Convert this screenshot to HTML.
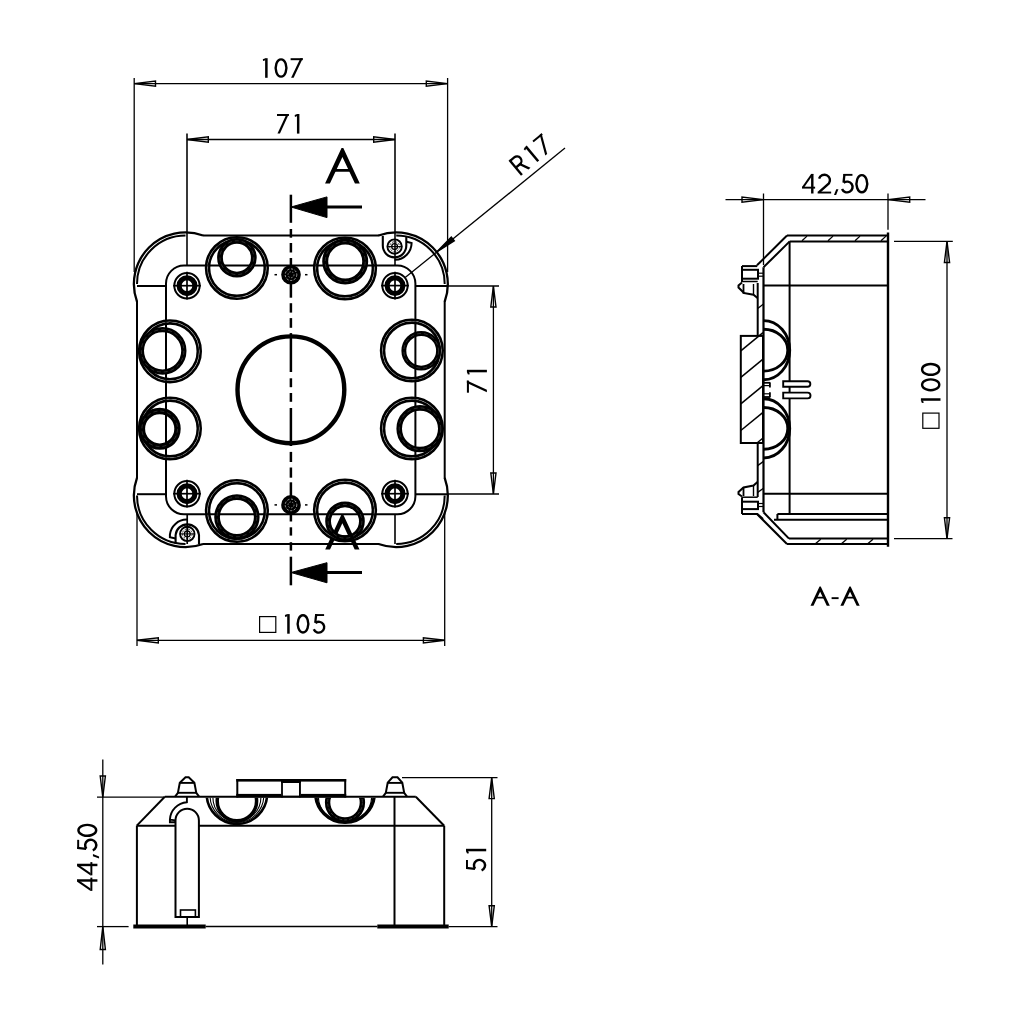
<!DOCTYPE html>
<html><head><meta charset="utf-8"><style>
html,body{margin:0;padding:0;background:#fff;width:1024px;height:1024px;overflow:hidden}
svg{display:block}
text{font-family:"Liberation Sans",sans-serif;fill:#000;stroke:none}
</style></head><body>
<svg width="1024" height="1024" viewBox="0 0 1024 1024" stroke="#000" fill="none" stroke-linecap="butt">
<rect x="0" y="0" width="1024" height="1024" fill="#fff" stroke="none"/>
<line x1="134.20" y1="78.00" x2="134.20" y2="272.00" stroke-width="1.3" />
<line x1="447.60" y1="78.00" x2="447.60" y2="272.00" stroke-width="1.3" />
<line x1="134.20" y1="83.60" x2="447.60" y2="83.60" stroke-width="1.3" />
<polygon points="134.20,83.60 155.50,86.20 155.50,81.00" stroke-width="1.4" fill="none" />
<polygon points="447.60,83.60 426.30,81.00 426.30,86.20" stroke-width="1.4" fill="none" />
<g transform=" translate(262.80,58.20) scale(1.0076,1.0000) translate(-4.80,0)"><g transform="translate(4.80,0)"><polygon points="2.30,0.00 4.80,0.00 4.80,19.60 2.30,19.60" fill="#000" stroke="none"/><polygon points="0.00,1.00 2.60,0.00 2.60,2.10 0.30,2.90" fill="#000" stroke="none"/></g><g transform="translate(16.40,0)"><path d="M6.5,1.2 A5.3,8.6 0 1 1 6.49,1.2 Z" fill="none" stroke="#000" stroke-width="2.4" /></g><g transform="translate(32.40,0)"><polygon points="0.00,0.00 12.10,0.00 12.10,2.00 0.00,2.00" fill="#000" stroke="none"/><polygon points="9.70,0.00 12.10,0.00 3.00,19.60 0.50,19.60" fill="#000" stroke="none"/></g></g>
<line x1="187.00" y1="133.60" x2="187.00" y2="266.00" stroke-width="1.56" />
<line x1="395.00" y1="133.60" x2="395.00" y2="266.00" stroke-width="1.56" />
<line x1="187.00" y1="139.50" x2="395.00" y2="139.50" stroke-width="1.3" />
<polygon points="187.00,139.50 208.30,142.10 208.30,136.90" stroke-width="1.4" fill="none" />
<polygon points="395.00,139.50 373.70,136.90 373.70,142.10" stroke-width="1.4" fill="none" />
<g transform=" translate(277.00,114.00) scale(0.9825,1.0000) translate(-2.00,0)"><g transform="translate(2.00,0)"><polygon points="0.00,0.00 12.10,0.00 12.10,2.00 0.00,2.00" fill="#000" stroke="none"/><polygon points="9.70,0.00 12.10,0.00 3.00,19.60 0.50,19.60" fill="#000" stroke="none"/></g><g transform="translate(20.00,0)"><polygon points="2.30,0.00 4.80,0.00 4.80,19.60 2.30,19.60" fill="#000" stroke="none"/><polygon points="0.00,1.00 2.60,0.00 2.60,2.10 0.30,2.90" fill="#000" stroke="none"/></g></g>
<line x1="447.00" y1="286.00" x2="499.00" y2="286.00" stroke-width="1.3" />
<line x1="447.00" y1="494.00" x2="499.00" y2="494.00" stroke-width="1.3" />
<line x1="493.40" y1="286.00" x2="493.40" y2="494.00" stroke-width="1.3" />
<polygon points="493.40,286.00 490.80,307.00 496.00,307.00" stroke-width="1.4" fill="none" />
<polygon points="493.40,494.00 496.00,473.00 490.80,473.00" stroke-width="1.4" fill="none" />
<g transform="translate(466.9,392.7) rotate(-90) translate(0.00,0.00) scale(1.0044,1.0204) translate(-2.00,0)"><g transform="translate(2.00,0)"><polygon points="0.00,0.00 12.10,0.00 12.10,2.00 0.00,2.00" fill="#000" stroke="none"/><polygon points="9.70,0.00 12.10,0.00 3.00,19.60 0.50,19.60" fill="#000" stroke="none"/></g><g transform="translate(20.00,0)"><polygon points="2.30,0.00 4.80,0.00 4.80,19.60 2.30,19.60" fill="#000" stroke="none"/><polygon points="0.00,1.00 2.60,0.00 2.60,2.10 0.30,2.90" fill="#000" stroke="none"/></g></g>
<line x1="137.00" y1="513.00" x2="137.00" y2="646.00" stroke-width="1.3" />
<line x1="444.70" y1="513.00" x2="444.70" y2="646.00" stroke-width="1.3" />
<line x1="137.00" y1="640.30" x2="444.70" y2="640.30" stroke-width="1.3" />
<polygon points="137.00,640.30 158.30,642.90 158.30,637.70" stroke-width="1.4" fill="none" />
<polygon points="444.70,640.30 423.40,637.70 423.40,642.90" stroke-width="1.4" fill="none" />
<rect x="259.60" y="616.60" width="16.20" height="15.80" stroke-width="1.2" fill="none"/>
<g transform=" translate(284.90,614.10) scale(1.0000,1.0000) translate(-4.80,0)"><g transform="translate(4.80,0)"><polygon points="2.30,0.00 4.80,0.00 4.80,19.60 2.30,19.60" fill="#000" stroke="none"/><polygon points="0.00,1.00 2.60,0.00 2.60,2.10 0.30,2.90" fill="#000" stroke="none"/></g><g transform="translate(16.40,0)"><path d="M6.5,1.2 A5.3,8.6 0 1 1 6.49,1.2 Z" fill="none" stroke="#000" stroke-width="2.4" /></g><g transform="translate(32.40,0)"><polygon points="2.60,0.00 11.60,0.00 11.60,1.90 2.60,1.90" fill="#000" stroke="none"/><polygon points="2.60,0.00 4.90,0.00 3.90,8.60 1.60,8.60" fill="#000" stroke="none"/><path d="M2.90,8.90 A5.4,5.4 0 1 1 1.29,15.12" fill="none" stroke="#000" stroke-width="2.4" /></g></g>
<line x1="405.20" y1="277.60" x2="565.00" y2="148.10" stroke-width="1.3" />
<polygon points="436.40,252.20 454.31,240.76 451.29,237.04" stroke-width="1.4" fill="#000" />
<g transform="translate(521,175.7) rotate(-39.82) translate(0.00,-19.50) scale(0.9817,0.9949) translate(-2.00,0)"><g transform="translate(2.00,0)"><polygon points="0.00,0.00 2.40,0.00 2.40,19.60 0.00,19.60" fill="#000" stroke="none"/><path d="M1.2,1.15 L6.6,1.15 A4.45,4.45 0 0 1 6.6,10.05 L1.2,10.05" fill="none" stroke="#000" stroke-width="2.3" /><polygon points="5.00,9.20 7.60,9.20 12.60,19.60 9.90,19.60" fill="#000" stroke="none"/></g><g transform="translate(21.30,0)"><polygon points="2.30,0.00 4.80,0.00 4.80,19.60 2.30,19.60" fill="#000" stroke="none"/><polygon points="0.00,1.00 2.60,0.00 2.60,2.10 0.30,2.90" fill="#000" stroke="none"/></g><g transform="translate(33.70,0)"><polygon points="0.00,0.00 12.10,0.00 12.10,2.00 0.00,2.00" fill="#000" stroke="none"/><polygon points="9.70,0.00 12.10,0.00 3.00,19.60 0.50,19.60" fill="#000" stroke="none"/></g></g>
<line x1="290.90" y1="194.70" x2="290.90" y2="222.80" stroke-width="2.5" />
<line x1="290.90" y1="229.00" x2="290.90" y2="237.70" stroke-width="2.5" />
<line x1="290.90" y1="243.00" x2="290.90" y2="252.50" stroke-width="2.5" />
<line x1="290.90" y1="258.00" x2="290.90" y2="297.70" stroke-width="2.5" />
<line x1="290.90" y1="303.20" x2="290.90" y2="312.60" stroke-width="2.5" />
<line x1="290.90" y1="318.10" x2="290.90" y2="327.80" stroke-width="2.5" />
<line x1="290.90" y1="333.10" x2="290.90" y2="372.00" stroke-width="2.5" />
<line x1="290.90" y1="378.30" x2="290.90" y2="387.20" stroke-width="2.5" />
<line x1="290.90" y1="393.00" x2="290.90" y2="401.80" stroke-width="2.5" />
<line x1="290.90" y1="408.00" x2="290.90" y2="446.00" stroke-width="2.5" />
<line x1="290.90" y1="451.90" x2="290.90" y2="462.00" stroke-width="2.5" />
<line x1="290.90" y1="467.50" x2="290.90" y2="477.70" stroke-width="2.5" />
<line x1="290.90" y1="482.30" x2="290.90" y2="521.50" stroke-width="2.5" />
<line x1="290.90" y1="527.30" x2="290.90" y2="535.60" stroke-width="2.5" />
<line x1="290.90" y1="542.20" x2="290.90" y2="550.60" stroke-width="2.5" />
<line x1="290.90" y1="556.70" x2="290.90" y2="585.30" stroke-width="2.5" />
<polygon points="291.00,207.00 327.00,196.90 327.00,217.60" stroke-width="1" fill="#000" />
<line x1="326.00" y1="207.00" x2="362.00" y2="207.00" stroke-width="3" />
<polygon points="291.00,572.50 327.00,562.70 327.00,582.80" stroke-width="1" fill="#000" />
<line x1="326.00" y1="572.50" x2="362.00" y2="572.50" stroke-width="3" />
<g transform="translate(325.05,148)"><polygon points="0.00,35.50 16.48,0.00 18.27,0.00 34.75,35.50 29.90,35.50 17.38,8.92 4.85,35.50" fill="#000" stroke="none"/><polygon points="10.68,21.00 24.07,21.00 25.34,23.70 9.41,23.70" fill="#000" stroke="none"/></g>
<g transform="translate(325.2,514.4)"><polygon points="0.00,35.20 16.25,0.00 18.05,0.00 34.30,35.20 29.50,35.20 17.15,8.87 4.80,35.20" fill="#000" stroke="none"/><polygon points="10.55,20.80 23.75,20.80 25.01,23.50 9.29,23.50" fill="#000" stroke="none"/></g>
<line x1="203.00" y1="235.60" x2="379.00" y2="235.60" stroke-width="2.0" />
<line x1="203.00" y1="544.00" x2="379.00" y2="544.00" stroke-width="2.0" />
<line x1="137.00" y1="301.00" x2="137.00" y2="478.50" stroke-width="2.0" />
<line x1="444.70" y1="301.00" x2="444.70" y2="478.50" stroke-width="2.0" />
<path d="M137.00,284.00 A48.5,48.5 0 0 1 185.50,235.50" stroke-width="2.0" fill="none" />
<path d="M137.00,301.62 A51.6,51.6 0 0 1 203.12,235.50" stroke-width="2.3" fill="none" />
<path d="M444.70,284.00 A48.5,48.5 0 0 0 396.20,235.50" stroke-width="2.0" fill="none" />
<path d="M444.70,301.62 A51.6,51.6 0 0 0 378.58,235.50" stroke-width="2.3" fill="none" />
<path d="M444.70,495.50 A48.5,48.5 0 0 1 396.20,544.00" stroke-width="2.0" fill="none" />
<path d="M444.70,477.88 A51.6,51.6 0 0 1 378.58,544.00" stroke-width="2.3" fill="none" />
<path d="M137.00,495.50 A48.5,48.5 0 0 0 185.50,544.00" stroke-width="2.0" fill="none" />
<path d="M137.00,477.88 A51.6,51.6 0 0 0 203.12,544.00" stroke-width="2.3" fill="none" />
<circle cx="290.90" cy="389.80" r="53.40" stroke-width="4.4" fill="none" />
<line x1="137.00" y1="286.00" x2="166.00" y2="286.00" stroke-width="2.0" />
<line x1="415.40" y1="286.00" x2="447.60" y2="286.00" stroke-width="2.0" />
<line x1="137.00" y1="494.20" x2="166.00" y2="494.20" stroke-width="2.0" />
<line x1="415.40" y1="494.20" x2="447.60" y2="494.20" stroke-width="2.0" />
<line x1="395.00" y1="514.20" x2="395.00" y2="544.00" stroke-width="1.6" />
<rect x="166" y="265.6" width="249.4" height="248.6" rx="18" ry="18" stroke-width="2" fill="none"/>
<circle cx="187.00" cy="285.70" r="12.70" stroke-width="2.0" fill="none" />
<circle cx="187.00" cy="285.70" r="7.90" stroke-width="5.1" fill="none" />
<line x1="173.10" y1="285.70" x2="200.90" y2="285.70" stroke-width="1.7" />
<line x1="187.00" y1="271.80" x2="187.00" y2="299.60" stroke-width="1.7" />
<circle cx="395.00" cy="285.60" r="12.70" stroke-width="2.0" fill="none" />
<circle cx="395.00" cy="285.60" r="7.90" stroke-width="5.1" fill="none" />
<line x1="381.10" y1="285.60" x2="408.90" y2="285.60" stroke-width="1.7" />
<line x1="395.00" y1="271.70" x2="395.00" y2="299.50" stroke-width="1.7" />
<circle cx="187.00" cy="493.70" r="12.70" stroke-width="2.0" fill="none" />
<circle cx="187.00" cy="493.70" r="7.90" stroke-width="5.1" fill="none" />
<line x1="173.10" y1="493.70" x2="200.90" y2="493.70" stroke-width="1.7" />
<line x1="187.00" y1="479.80" x2="187.00" y2="507.60" stroke-width="1.7" />
<circle cx="395.00" cy="493.70" r="12.70" stroke-width="2.0" fill="none" />
<circle cx="395.00" cy="493.70" r="7.90" stroke-width="5.1" fill="none" />
<line x1="381.10" y1="493.70" x2="408.90" y2="493.70" stroke-width="1.7" />
<line x1="395.00" y1="479.80" x2="395.00" y2="507.60" stroke-width="1.7" />
<circle cx="291" cy="274.7" r="9.8" fill="#000" stroke="none"/>
<circle cx="291.00" cy="274.70" r="5.80" stroke-width="0.7" fill="none" stroke="#fff" stroke-dasharray="2.2,1.6" stroke-opacity="0.85"/>
<circle cx="291.00" cy="274.70" r="3.00" stroke-width="0.6" fill="none" stroke="#fff" stroke-dasharray="1.6,1.4" stroke-opacity="0.8"/>
<line x1="274.50" y1="274.70" x2="277.00" y2="274.70" stroke-width="1.5" />
<line x1="305.00" y1="274.70" x2="307.50" y2="274.70" stroke-width="1.5" />
<circle cx="291" cy="504.9" r="9.8" fill="#000" stroke="none"/>
<circle cx="291.00" cy="504.90" r="5.80" stroke-width="0.7" fill="none" stroke="#fff" stroke-dasharray="2.2,1.6" stroke-opacity="0.85"/>
<circle cx="291.00" cy="504.90" r="3.00" stroke-width="0.6" fill="none" stroke="#fff" stroke-dasharray="1.6,1.4" stroke-opacity="0.8"/>
<line x1="274.50" y1="504.90" x2="277.00" y2="504.90" stroke-width="1.5" />
<line x1="305.00" y1="504.90" x2="307.50" y2="504.90" stroke-width="1.5" />
<circle cx="236.90" cy="268.00" r="30.80" stroke-width="2.6" fill="none" />
<circle cx="236.90" cy="268.00" r="27.90" stroke-width="2.6" fill="none" />
<circle cx="236.90" cy="268.00" r="29.25" stroke-width="0.45" fill="none" stroke="#fff" stroke-dasharray="4,3" stroke-opacity="0.45"/>
<circle cx="236.90" cy="257.70" r="16.90" stroke-width="5.800000000000001" fill="none" />
<circle cx="236.90" cy="257.70" r="16.90" stroke-width="0.45" fill="none" stroke="#fff" stroke-dasharray="4,3" stroke-opacity="0.4"/>
<circle cx="345.00" cy="268.50" r="30.80" stroke-width="2.6" fill="none" />
<circle cx="345.00" cy="268.50" r="27.90" stroke-width="2.6" fill="none" />
<circle cx="345.00" cy="268.50" r="29.25" stroke-width="0.45" fill="none" stroke="#fff" stroke-dasharray="4,3" stroke-opacity="0.45"/>
<circle cx="345.20" cy="261.60" r="20.00" stroke-width="6" fill="none" />
<circle cx="345.20" cy="261.60" r="20.00" stroke-width="0.45" fill="none" stroke="#fff" stroke-dasharray="4,3" stroke-opacity="0.4"/>
<circle cx="169.90" cy="351.30" r="30.80" stroke-width="2.6" fill="none" />
<circle cx="169.90" cy="351.30" r="27.90" stroke-width="2.6" fill="none" />
<circle cx="169.90" cy="351.30" r="29.25" stroke-width="0.45" fill="none" stroke="#fff" stroke-dasharray="4,3" stroke-opacity="0.45"/>
<circle cx="162.60" cy="350.80" r="21.25" stroke-width="5.299999999999997" fill="none" />
<circle cx="162.60" cy="350.80" r="21.25" stroke-width="0.45" fill="none" stroke="#fff" stroke-dasharray="4,3" stroke-opacity="0.4"/>
<circle cx="169.90" cy="428.50" r="30.80" stroke-width="2.6" fill="none" />
<circle cx="169.90" cy="428.50" r="27.90" stroke-width="2.6" fill="none" />
<circle cx="169.90" cy="428.50" r="29.25" stroke-width="0.45" fill="none" stroke="#fff" stroke-dasharray="4,3" stroke-opacity="0.45"/>
<circle cx="159.70" cy="428.80" r="17.80" stroke-width="6.4" fill="none" />
<circle cx="159.70" cy="428.80" r="17.80" stroke-width="0.45" fill="none" stroke="#fff" stroke-dasharray="4,3" stroke-opacity="0.4"/>
<circle cx="411.90" cy="350.50" r="30.80" stroke-width="2.6" fill="none" />
<circle cx="411.90" cy="350.50" r="27.90" stroke-width="2.6" fill="none" />
<circle cx="411.90" cy="350.50" r="29.25" stroke-width="0.45" fill="none" stroke="#fff" stroke-dasharray="4,3" stroke-opacity="0.45"/>
<circle cx="421.20" cy="350.80" r="17.35" stroke-width="4.9" fill="none" />
<circle cx="421.20" cy="350.80" r="17.35" stroke-width="0.45" fill="none" stroke="#fff" stroke-dasharray="4,3" stroke-opacity="0.4"/>
<circle cx="411.90" cy="428.50" r="30.80" stroke-width="2.6" fill="none" />
<circle cx="411.90" cy="428.50" r="27.90" stroke-width="2.6" fill="none" />
<circle cx="411.90" cy="428.50" r="29.25" stroke-width="0.45" fill="none" stroke="#fff" stroke-dasharray="4,3" stroke-opacity="0.45"/>
<circle cx="420.00" cy="428.70" r="20.80" stroke-width="5.600000000000001" fill="none" />
<circle cx="420.00" cy="428.70" r="20.80" stroke-width="0.45" fill="none" stroke="#fff" stroke-dasharray="4,3" stroke-opacity="0.4"/>
<circle cx="236.90" cy="511.00" r="30.80" stroke-width="2.6" fill="none" />
<circle cx="236.90" cy="511.00" r="27.90" stroke-width="2.6" fill="none" />
<circle cx="236.90" cy="511.00" r="29.25" stroke-width="0.45" fill="none" stroke="#fff" stroke-dasharray="4,3" stroke-opacity="0.45"/>
<circle cx="236.90" cy="516.90" r="19.85" stroke-width="5.699999999999999" fill="none" />
<circle cx="236.90" cy="516.90" r="19.85" stroke-width="0.45" fill="none" stroke="#fff" stroke-dasharray="4,3" stroke-opacity="0.4"/>
<circle cx="345.00" cy="510.50" r="30.80" stroke-width="2.6" fill="none" />
<circle cx="345.00" cy="510.50" r="27.90" stroke-width="2.6" fill="none" />
<circle cx="345.00" cy="510.50" r="29.25" stroke-width="0.45" fill="none" stroke="#fff" stroke-dasharray="4,3" stroke-opacity="0.45"/>
<circle cx="345.00" cy="521.30" r="16.90" stroke-width="5.800000000000001" fill="none" />
<circle cx="345.00" cy="521.30" r="16.90" stroke-width="0.45" fill="none" stroke="#fff" stroke-dasharray="4,3" stroke-opacity="0.4"/>
<circle cx="394.60" cy="246.60" r="7.20" stroke-width="1.9" fill="none" />
<circle cx="394.60" cy="246.60" r="4.90" stroke-width="0.8" fill="none" stroke-dasharray="2,1.3"/>
<circle cx="394.60" cy="246.60" r="2.90" stroke-width="1.3" fill="none" />
<line x1="387.10" y1="246.60" x2="402.10" y2="246.60" stroke-width="1.1" />
<path d="M382.8,236 L382.8,245.6 A11.75,11.75 0 0 0 406.3,245.6 L406.3,236" stroke-width="2.1" fill="none" />
<path d="M406.5,241.8 L411.6,243.0 A17,17 0 0 1 395.2,259.8 L394.5,259.8" stroke-width="2.0" fill="none" />
<circle cx="187.30" cy="533.90" r="7.20" stroke-width="1.9" fill="none" />
<circle cx="187.30" cy="533.90" r="4.90" stroke-width="0.8" fill="none" stroke-dasharray="2,1.3"/>
<circle cx="187.30" cy="533.90" r="2.90" stroke-width="1.3" fill="none" />
<line x1="179.80" y1="533.90" x2="194.80" y2="533.90" stroke-width="1.1" />
<path d="M175.6,544 L175.6,535.0 A11.75,11.75 0 0 1 199.0,535.0 L199.0,544" stroke-width="2.1" fill="none" />
<path d="M175.6,538.5 L169.9,537.3 L169.9,534.6 A17,17 0 0 1 186.6,519.6 L187.2,519.6" stroke-width="2.0" fill="none" />
<line x1="187.20" y1="514.20" x2="187.20" y2="544.00" stroke-width="1.7" />
<line x1="763.50" y1="193.50" x2="763.50" y2="265.00" stroke-width="1.3" />
<line x1="888.00" y1="193.50" x2="888.00" y2="229.70" stroke-width="1.3" />
<line x1="725.50" y1="199.60" x2="925.50" y2="199.60" stroke-width="1.3" />
<polygon points="763.50,199.60 742.00,197.00 742.00,202.20" stroke-width="1.4" fill="none" />
<polygon points="888.00,199.60 909.70,202.20 909.70,197.00" stroke-width="1.4" fill="none" />
<g transform=" translate(802.00,173.90) scale(1.0091,1.0000) translate(-1.00,0)"><g transform="translate(1.00,0)"><polygon points="9.00,0.00 11.40,0.00 11.40,19.60 9.00,19.60" fill="#000" stroke="none"/><polygon points="9.00,0.00 11.40,0.00 2.40,13.00 0.00,13.00" fill="#000" stroke="none"/><polygon points="0.00,12.80 13.00,12.80 13.00,14.70 0.00,14.70" fill="#000" stroke="none"/></g><g transform="translate(16.50,0)"><path d="M1.44,4.69 A5.5,5.5 0 1 1 11.21,9.45 L1.2,18.5" fill="none" stroke="#000" stroke-width="2.4" stroke-linejoin="round"/><polygon points="0.00,17.70 13.40,17.70 13.40,19.60 0.00,19.60" fill="#000" stroke="none"/></g><g transform="translate(32.70,0)"><polygon points="2.20,15.30 4.40,15.30 2.10,21.20 0.00,21.20" fill="#000" stroke="none"/></g><g transform="translate(39.40,0)"><polygon points="2.60,0.00 11.60,0.00 11.60,1.90 2.60,1.90" fill="#000" stroke="none"/><polygon points="2.60,0.00 4.90,0.00 3.90,8.60 1.60,8.60" fill="#000" stroke="none"/><path d="M2.90,8.90 A5.4,5.4 0 1 1 1.29,15.12" fill="none" stroke="#000" stroke-width="2.4" /></g><g transform="translate(53.80,0)"><path d="M6.5,1.2 A5.3,8.6 0 1 1 6.49,1.2 Z" fill="none" stroke="#000" stroke-width="2.4" /></g></g>
<line x1="894.00" y1="241.40" x2="952.80" y2="241.40" stroke-width="1.3" />
<line x1="894.00" y1="538.60" x2="952.50" y2="538.60" stroke-width="1.3" />
<line x1="947.00" y1="241.40" x2="947.00" y2="538.60" stroke-width="1.3" />
<polygon points="947.00,241.40 944.40,262.50 949.60,262.50" stroke-width="1.4" fill="none" />
<polygon points="947.00,538.60 949.60,517.80 944.40,517.80" stroke-width="1.4" fill="none" />
<g transform="translate(920.9,428.9) rotate(-90)"><rect x="0.6" y="1.9" width="15.2" height="16.2" stroke-width="1.2" fill="none"/></g>
<g transform="translate(920.9,428.9) rotate(-90) translate(25.80,0.00) scale(1.0126,1.0000) translate(-4.80,0)"><g transform="translate(4.80,0)"><polygon points="2.30,0.00 4.80,0.00 4.80,19.60 2.30,19.60" fill="#000" stroke="none"/><polygon points="0.00,1.00 2.60,0.00 2.60,2.10 0.30,2.90" fill="#000" stroke="none"/></g><g transform="translate(16.40,0)"><path d="M6.5,1.2 A5.3,8.6 0 1 1 6.49,1.2 Z" fill="none" stroke="#000" stroke-width="2.4" /></g><g transform="translate(31.60,0)"><path d="M6.5,1.2 A5.3,8.6 0 1 1 6.49,1.2 Z" fill="none" stroke="#000" stroke-width="2.4" /></g></g>
<line x1="787.00" y1="235.50" x2="888.00" y2="235.50" stroke-width="2.0" />
<line x1="789.70" y1="241.40" x2="888.00" y2="241.40" stroke-width="2.0" />
<line x1="802.00" y1="240.80" x2="807.00" y2="236.10" stroke-width="1.3" />
<line x1="828.00" y1="240.80" x2="833.00" y2="236.10" stroke-width="1.3" />
<line x1="855.00" y1="240.80" x2="860.00" y2="236.10" stroke-width="1.3" />
<line x1="881.00" y1="240.80" x2="886.00" y2="236.10" stroke-width="1.3" />
<line x1="787.00" y1="235.50" x2="757.00" y2="265.30" stroke-width="2.0" />
<line x1="789.70" y1="241.40" x2="763.50" y2="267.30" stroke-width="2.0" />
<line x1="888.00" y1="232.50" x2="888.00" y2="546.70" stroke-width="2.4" />
<line x1="789.60" y1="241.40" x2="789.60" y2="513.60" stroke-width="2.0" />
<line x1="763.50" y1="285.50" x2="888.00" y2="285.50" stroke-width="2.0" />
<line x1="763.50" y1="493.80" x2="888.00" y2="493.80" stroke-width="2.0" />
<line x1="763.50" y1="267.30" x2="763.50" y2="512.20" stroke-width="2.2" />
<line x1="757.70" y1="283.00" x2="757.70" y2="335.90" stroke-width="2.0" />
<line x1="757.70" y1="443.00" x2="757.70" y2="497.00" stroke-width="2.0" />
<line x1="757.70" y1="308.60" x2="763.50" y2="304.00" stroke-width="1.3" />
<line x1="757.70" y1="465.60" x2="763.50" y2="461.40" stroke-width="1.3" />
<line x1="757.70" y1="492.40" x2="763.50" y2="488.20" stroke-width="1.3" />
<rect x="740.8" y="335.9" width="22.2" height="107.1" stroke-width="2" fill="none"/>
<line x1="740.80" y1="350.80" x2="763.00" y2="332.60" stroke-width="1.5" />
<line x1="740.80" y1="377.30" x2="763.00" y2="359.10" stroke-width="1.5" />
<line x1="740.80" y1="403.90" x2="763.00" y2="385.70" stroke-width="1.5" />
<line x1="740.80" y1="430.50" x2="763.00" y2="412.30" stroke-width="1.5" />
<line x1="757.00" y1="443.00" x2="763.00" y2="438.00" stroke-width="1.5" />
<path d="M763.5,320.60 A26.2,29.6 0 0 1 763.5,379.80" stroke-width="2.9" fill="none" />
<path d="M763.5,329.30 A24.3,20.9 0 0 1 763.5,371.10" stroke-width="2.9" fill="none" />
<path d="M763.5,398.80 A26.2,29.6 0 0 1 763.5,458.00" stroke-width="2.9" fill="none" />
<path d="M763.5,407.50 A24.3,20.9 0 0 1 763.5,449.30" stroke-width="2.9" fill="none" />
<path d="M783.2,381.3 L807.6,381.3 A2.75,2.75 0 0 1 807.6,386.8 L783.2,386.8 Z" stroke-width="1.9" fill="#fff"/>
<path d="M783.2,392.6 L807.6,392.6 A2.9,2.9 0 0 1 807.6,398.4 L783.2,398.4 Z" stroke-width="1.9" fill="#fff"/>
<line x1="763.50" y1="382.80" x2="770.20" y2="382.80" stroke-width="1.8" />
<line x1="763.50" y1="385.60" x2="770.20" y2="385.60" stroke-width="1.2" />
<line x1="763.50" y1="393.80" x2="770.20" y2="393.80" stroke-width="1.2" />
<line x1="763.50" y1="397.00" x2="770.20" y2="397.00" stroke-width="1.8" />
<line x1="769.90" y1="382.50" x2="769.90" y2="387.40" stroke-width="1.8" />
<line x1="769.90" y1="392.20" x2="769.90" y2="397.30" stroke-width="1.8" />
<polyline points="742.00,266.10 757.30,266.10" stroke-width="2.0" fill="none" />
<polyline points="742.00,266.10 742.00,282.10" stroke-width="2.0" fill="none" />
<rect x="742" y="269.8" width="16" height="8.9" stroke-width="2" fill="none"/>
<line x1="758.00" y1="273.20" x2="763.50" y2="273.20" stroke-width="1.2" />
<line x1="758.00" y1="276.20" x2="763.50" y2="276.20" stroke-width="1.2" />
<polyline points="742.00,281.50 757.70,281.50" stroke-width="1.5" fill="none" />
<polyline points="742.00,282.50 738.50,285.50 738.50,287.50 743.50,292.50 743.50,293.00 753.50,294.70 757.50,298.00" stroke-width="2.0" fill="none" />
<line x1="743.50" y1="284.00" x2="743.50" y2="293.00" stroke-width="1.8" />
<line x1="753.50" y1="284.00" x2="753.50" y2="294.70" stroke-width="1.4" />
<polyline points="742.00,514.00 757.30,514.00 763.00,519.00" stroke-width="2.0" fill="none" />
<polyline points="742.00,514.00 742.00,497.20" stroke-width="2.0" fill="none" />
<rect x="742" y="501.7" width="16" height="7.4" stroke-width="2" fill="none"/>
<line x1="758.00" y1="503.50" x2="763.50" y2="503.50" stroke-width="1.2" />
<line x1="758.00" y1="506.50" x2="763.50" y2="506.50" stroke-width="1.2" />
<polyline points="742.00,497.20 757.70,497.20" stroke-width="1.5" fill="none" />
<polyline points="742.00,496.50 738.50,494.00 738.50,492.00 743.50,487.50 753.50,485.50 757.50,482.00" stroke-width="2.0" fill="none" />
<line x1="743.50" y1="487.00" x2="743.50" y2="496.00" stroke-width="1.8" />
<line x1="753.50" y1="485.50" x2="753.50" y2="496.00" stroke-width="1.4" />
<line x1="757.00" y1="514.00" x2="787.00" y2="544.00" stroke-width="2.0" />
<line x1="787.00" y1="544.00" x2="888.00" y2="544.00" stroke-width="2.0" />
<line x1="763.50" y1="512.20" x2="789.00" y2="538.60" stroke-width="2.0" />
<line x1="789.00" y1="538.60" x2="888.00" y2="538.60" stroke-width="2.0" />
<line x1="815.70" y1="543.50" x2="820.70" y2="539.20" stroke-width="1.3" />
<line x1="841.70" y1="543.50" x2="846.70" y2="539.20" stroke-width="1.3" />
<line x1="868.00" y1="543.50" x2="873.00" y2="539.20" stroke-width="1.3" />
<line x1="777.40" y1="514.00" x2="888.00" y2="514.00" stroke-width="2.0" />
<line x1="774.00" y1="519.80" x2="888.00" y2="519.80" stroke-width="2.0" />
<line x1="777.40" y1="514.00" x2="777.40" y2="519.80" stroke-width="2.0" />
<g transform="translate(810.5,586.4)"><polygon points="0.00,19.30 9.05,0.00 10.25,0.00 19.30,19.30 16.30,19.30 9.65,5.40 3.00,19.30" fill="#000" stroke="none"/><polygon points="6.31,10.30 12.99,10.30 13.90,12.20 5.40,12.20" fill="#000" stroke="none"/></g>
<g transform="translate(840.4,586.4)"><polygon points="0.00,19.30 9.05,0.00 10.25,0.00 19.30,19.30 16.30,19.30 9.65,5.40 3.00,19.30" fill="#000" stroke="none"/><polygon points="6.31,10.30 12.99,10.30 13.90,12.20 5.40,12.20" fill="#000" stroke="none"/></g>
<polygon points="831.60,597.20 838.60,597.20 838.60,599.10 831.60,599.10" fill="#000" stroke="none"/>
<line x1="102.80" y1="759.60" x2="102.80" y2="964.40" stroke-width="1.3" />
<line x1="97.00" y1="797.20" x2="164.80" y2="797.20" stroke-width="1.3" />
<line x1="97.00" y1="926.60" x2="128.60" y2="926.60" stroke-width="1.3" />
<polygon points="102.80,797.20 105.40,776.00 100.20,776.00" stroke-width="1.4" fill="none" />
<polygon points="102.80,926.60 100.20,949.50 105.40,949.50" stroke-width="1.4" fill="none" />
<g transform="translate(77.2,890.9) rotate(-90) translate(0.00,0.00) scale(1.0213,1.0306) translate(-1.00,0)"><g transform="translate(1.00,0)"><polygon points="9.00,0.00 11.40,0.00 11.40,19.60 9.00,19.60" fill="#000" stroke="none"/><polygon points="9.00,0.00 11.40,0.00 2.40,13.00 0.00,13.00" fill="#000" stroke="none"/><polygon points="0.00,12.80 13.00,12.80 13.00,14.70 0.00,14.70" fill="#000" stroke="none"/></g><g transform="translate(16.20,0)"><polygon points="9.00,0.00 11.40,0.00 11.40,19.60 9.00,19.60" fill="#000" stroke="none"/><polygon points="9.00,0.00 11.40,0.00 2.40,13.00 0.00,13.00" fill="#000" stroke="none"/><polygon points="0.00,12.80 13.00,12.80 13.00,14.70 0.00,14.70" fill="#000" stroke="none"/></g><g transform="translate(32.70,0)"><polygon points="2.20,15.30 4.40,15.30 2.10,21.20 0.00,21.20" fill="#000" stroke="none"/></g><g transform="translate(39.40,0)"><polygon points="2.60,0.00 11.60,0.00 11.60,1.90 2.60,1.90" fill="#000" stroke="none"/><polygon points="2.60,0.00 4.90,0.00 3.90,8.60 1.60,8.60" fill="#000" stroke="none"/><path d="M2.90,8.90 A5.4,5.4 0 1 1 1.29,15.12" fill="none" stroke="#000" stroke-width="2.4" /></g><g transform="translate(53.80,0)"><path d="M6.5,1.2 A5.3,8.6 0 1 1 6.49,1.2 Z" fill="none" stroke="#000" stroke-width="2.4" /></g></g>
<line x1="402.00" y1="777.60" x2="497.50" y2="777.60" stroke-width="1.3" />
<line x1="448.60" y1="926.70" x2="497.50" y2="926.70" stroke-width="1.3" />
<line x1="491.70" y1="777.60" x2="491.70" y2="926.70" stroke-width="1.3" />
<polygon points="491.70,777.60 489.10,798.60 494.30,798.60" stroke-width="1.4" fill="none" />
<polygon points="491.70,926.70 494.30,905.70 489.10,905.70" stroke-width="1.4" fill="none" />
<g transform="translate(466,871.6) rotate(-90) translate(0.00,0.00) scale(1.0000,1.0306) translate(-2.00,0)"><g transform="translate(2.00,0)"><polygon points="2.60,0.00 11.60,0.00 11.60,1.90 2.60,1.90" fill="#000" stroke="none"/><polygon points="2.60,0.00 4.90,0.00 3.90,8.60 1.60,8.60" fill="#000" stroke="none"/><path d="M2.90,8.90 A5.4,5.4 0 1 1 1.29,15.12" fill="none" stroke="#000" stroke-width="2.4" /></g><g transform="translate(20.00,0)"><polygon points="2.30,0.00 4.80,0.00 4.80,19.60 2.30,19.60" fill="#000" stroke="none"/><polygon points="0.00,1.00 2.60,0.00 2.60,2.10 0.30,2.90" fill="#000" stroke="none"/></g></g>
<line x1="164.80" y1="796.80" x2="415.80" y2="796.80" stroke-width="2.0" />
<line x1="164.80" y1="796.80" x2="136.80" y2="825.60" stroke-width="2.0" />
<line x1="415.80" y1="796.80" x2="444.20" y2="825.80" stroke-width="2.0" />
<line x1="136.80" y1="825.80" x2="444.20" y2="825.80" stroke-width="2.0" />
<line x1="136.90" y1="825.60" x2="136.90" y2="926.00" stroke-width="2.0" />
<line x1="444.20" y1="825.80" x2="444.20" y2="926.00" stroke-width="2.0" />
<line x1="133.30" y1="926.40" x2="205.70" y2="926.40" stroke-width="4" />
<line x1="377.30" y1="926.40" x2="448.70" y2="926.40" stroke-width="4" />
<line x1="205.70" y1="926.50" x2="377.30" y2="926.50" stroke-width="1.6" />
<line x1="394.50" y1="796.80" x2="394.50" y2="926.00" stroke-width="2.0" />
<rect x="236.30" y="779.00" width="109.90" height="2.60" fill="#000" stroke="none"/>
<rect x="281.10" y="779.00" width="19.80" height="4.00" fill="#000" stroke="none"/>
<rect x="281.10" y="779.00" width="1.80" height="18.40" fill="#000" stroke="none"/>
<rect x="299.00" y="779.00" width="1.90" height="18.40" fill="#000" stroke="none"/>
<rect x="236.30" y="793.90" width="44.80" height="3.50" fill="#000" stroke="none"/>
<rect x="300.90" y="793.90" width="45.30" height="3.50" fill="#000" stroke="none"/>
<rect x="281.10" y="795.80" width="19.80" height="1.60" fill="#000" stroke="none"/>
<rect x="236.30" y="779.00" width="2.00" height="18.40" fill="#000" stroke="none"/>
<rect x="344.20" y="779.00" width="2.00" height="18.40" fill="#000" stroke="none"/>
<polyline points="175.10,796.60 177.90,792.90 179.80,782.70 185.50,777.30 188.70,777.30 194.40,782.70 196.30,792.90 199.10,796.60" stroke-width="2.0" fill="none" />
<line x1="179.80" y1="782.90" x2="194.40" y2="782.90" stroke-width="1.9" />
<line x1="177.90" y1="792.80" x2="196.30" y2="792.80" stroke-width="1.9" />
<polyline points="383.00,796.60 385.80,792.90 387.70,782.70 392.50,777.30 397.50,777.30 402.30,782.70 404.20,792.90 407.00,796.60" stroke-width="2.0" fill="none" />
<line x1="387.70" y1="782.90" x2="402.30" y2="782.90" stroke-width="1.9" />
<line x1="385.80" y1="792.80" x2="404.20" y2="792.80" stroke-width="1.9" />
<clipPath id="hk"><rect x="190" y="797.8" width="200" height="30"/></clipPath>
<g clip-path="url(#hk)">
<circle cx="236.90" cy="793.60" r="30.30" stroke-width="2.6" fill="none" />
<circle cx="236.90" cy="795.50" r="26.90" stroke-width="1.1" fill="none" />
<circle cx="236.90" cy="797.50" r="24.00" stroke-width="1.1" fill="none" />
<circle cx="236.90" cy="801.00" r="19.70" stroke-width="3.5" fill="none" />
<circle cx="345.00" cy="793.00" r="29.40" stroke-width="3.4" fill="none" />
<circle cx="345.00" cy="796.00" r="26.70" stroke-width="1.2" fill="none" />
<circle cx="345.00" cy="802.50" r="17.40" stroke-width="5.4" fill="none" />
<circle cx="345.00" cy="802.50" r="17.40" stroke-width="0.4" fill="none" stroke="#fff" stroke-dasharray="3,2" stroke-opacity="0.5"/>
</g>
<path d="M175.5,917 L175.5,820.4 A11.7,11.7 0 0 1 198.9,820.4 L198.9,917 Z" stroke-width="2" fill="#fff"/>
<rect x="180.5" y="910" width="14.9" height="7" stroke-width="1.6" fill="none"/>
<line x1="187.20" y1="917.00" x2="187.20" y2="926.00" stroke-width="1.6" />
<path d="M186.9,797 L186.9,802.2 A18.3,18.3 0 0 0 169.9,819.5 L169.9,822.3 L175.5,822.3 M169.9,819.6 L175.5,820.4" stroke-width="1.9" fill="none" />
</svg></body></html>
